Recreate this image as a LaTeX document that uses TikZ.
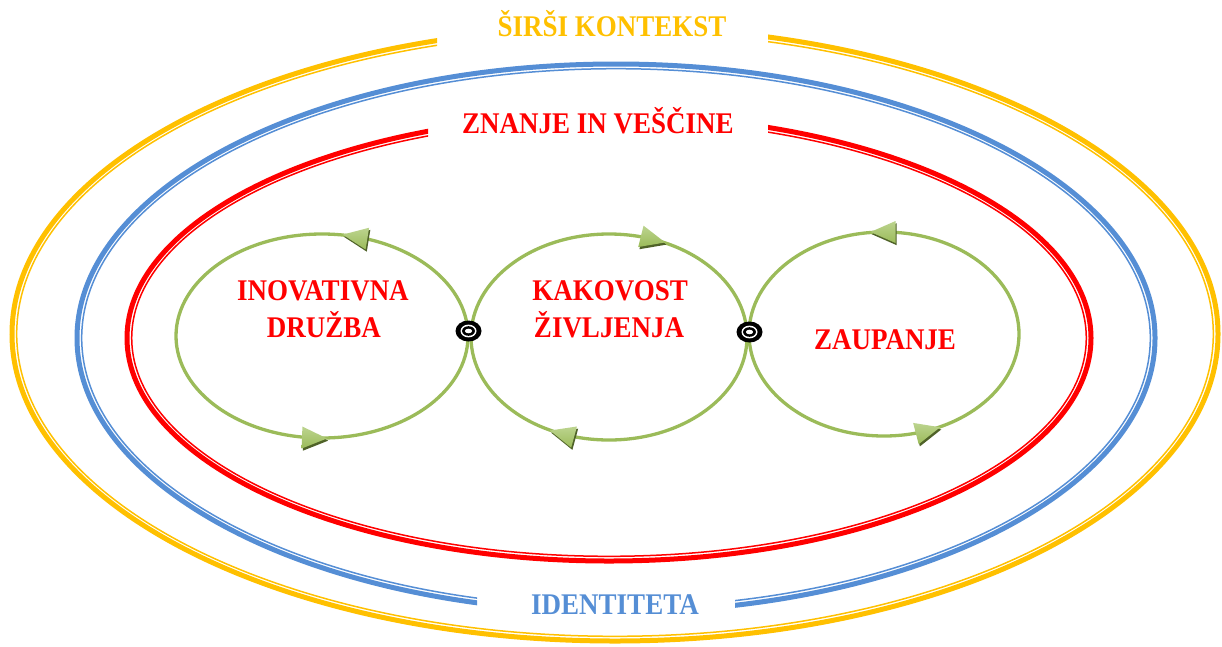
\documentclass[tikz,border=0pt]{standalone}
\usepackage{fontspec}
\newfontfamily\lblfont[FakeStretch=0.9]{Liberation Serif}
\usetikzlibrary{shapes.geometric}
\definecolor{cyellow}{HTML}{FFC000}
\definecolor{cblue}{HTML}{558ED5}
\definecolor{cred}{HTML}{FF0000}
\definecolor{cgreen}{HTML}{9BBB59}
\definecolor{cgreenlight}{HTML}{BCD48F}
\definecolor{cgreendark}{HTML}{4F6228}
\tikzset{
 lbl/.style={font=\lblfont\bfseries\fontsize{30}{35}\selectfont, anchor=base, inner sep=0pt},
 thickring/.style={line width=5pt},
 thinring/.style={line width=1.5pt},
 greenring/.style={ellipse, draw=cgreen, line width=3.3pt, inner sep=0pt},
 arrfill/.style={top color=cgreenlight, bottom color=cgreen},
 arrshadow/.style={fill=cgreendark},
}
\newcommand\grarrow[3]{%
 \begin{scope}[shift={(#1+1.2,#2+2.2)},rotate=#3]\fill[arrshadow] (12.5,0) -- (-12.5,11) -- (-12.5,-11) -- cycle;\end{scope}
 \begin{scope}[shift={(#1,#2)},rotate=#3]\shade[arrfill] (12.5,0) -- (-12.5,11) -- (-12.5,-11) -- cycle;\end{scope}}
\newcommand\junction[1]{%
 \fill[black] (#1) ellipse [x radius=13, y radius=10.5];
 \fill[white] (#1) ellipse [x radius=8, y radius=6.4];
 \fill[black] (#1) ellipse [x radius=6.4, y radius=4.8];
 \fill[white] (#1) ellipse [x radius=3.6, y radius=2.3];}
\begin{document}
\begin{tikzpicture}[x=1pt,y=-1pt]
\useasboundingbox (0,0) rectangle (1222,646);
% yellow ellipse (gap at top)
\begin{scope}
 \clip (0,0) rectangle (437,646) (768,0) rectangle (1222,646) (0,55) rectangle (1222,646);
 \draw[cyellow, thickring] (615,334) ellipse [x radius=603, y radius=307];
 \draw[cyellow, thinring] (615,334) ellipse [x radius=598.3, y radius=302.3];
\end{scope}
% blue ellipse (gap at bottom)
\begin{scope}
 \clip (0,0) rectangle (477,646) (735,0) rectangle (1222,646) (0,0) rectangle (1222,570);
 \draw[cblue, thickring] (616,338) ellipse [x radius=539, y radius=274];
 \draw[cblue, thinring] (616,338) ellipse [x radius=534.3, y radius=269.3];
\end{scope}
% red ellipse (gap at top)
\begin{scope}
 \clip (0,0) rectangle (428,646) (768,0) rectangle (1222,646) (0,0) rectangle (1222,95) (0,145) rectangle (1222,646);
 \draw[cred, thickring] (609,338) ellipse [x radius=482, y radius=223];
 \draw[cred, thinring] (609,338) ellipse [x radius=477.3, y radius=218.3];
\end{scope}
% titles
\node[lbl, text=cyellow] (tkont) at (612,36) {ŠIRŠI KONTEKST};
\node[lbl, text=cred] (tznan) at (598,133) {ZNANJE IN VEŠČINE};
\node[lbl, text=cblue] (tiden) at (615,614) {IDENTITETA};
% green cycles
\node[greenring, minimum width=292pt, minimum height=204pt] (cL) at (322,336) {};
\node[greenring, minimum width=276pt, minimum height=206pt] (cM) at (609,337) {};
\node[greenring, minimum width=270pt, minimum height=204pt] (cR) at (884,334) {};
% arrows
\grarrow{355}{236.6}{170.8}
\grarrow{314.5}{438}{-2.1}
\grarrow{653}{239.4}{-14.1}
\grarrow{562}{433.8}{164.8}
\grarrow{883}{232}{180}
\grarrow{928}{430.4}{14.6}
% junctions
\coordinate (j1) at (468.5,331);
\coordinate (j2) at (749.5,332);
\junction{j1}
\junction{j2}
% labels
\node[lbl, text=cred] (tinov) at (323,300) {INOVATIVNA};
\node[lbl, text=cred] (tdruz) at (324,337) {DRUŽBA};
\node[lbl, text=cred] (tkako) at (610,300) {KAKOVOST};
\node[lbl, text=cred] (tzivl) at (609,337) {ŽIVLJENJA};
\node[lbl, text=cred] (tzaup) at (885,349) {ZAUPANJE};
\end{tikzpicture}
\end{document}
